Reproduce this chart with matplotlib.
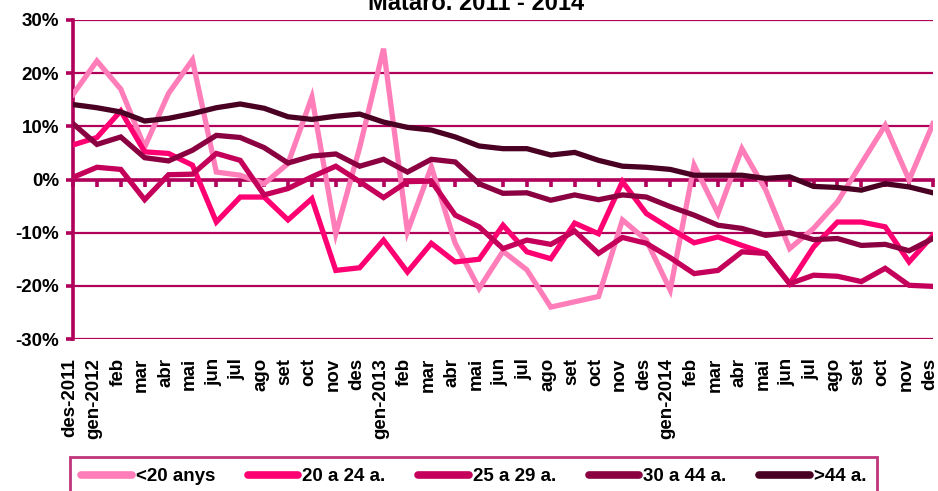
import matplotlib
matplotlib.use('Agg')
import matplotlib.pyplot as plt
import matplotlib.transforms as mtransforms

plt.rcParams['font.family'] = ['Liberation Sans', 'DejaVu Sans']
plt.rcParams['font.weight'] = 'bold'

# Monthly labels des-2011 .. des-2014
months = ['des-2011', 'gen-2012', 'feb', 'mar', 'abr', 'mai', 'jun', 'jul', 'ago', 'set', 'oct', 'nov', 'des',
          'gen-2013', 'feb', 'mar', 'abr', 'mai', 'jun', 'jul', 'ago', 'set', 'oct', 'nov', 'des',
          'gen-2014', 'feb', 'mar', 'abr', 'mai', 'jun', 'jul', 'ago', 'set', 'oct', 'nov', 'des']

# Year-on-year change (%) by age group
menys20 = [16.0, 22.3, 17.0, 6.1, 16.2, 22.5, 1.4, 0.8, -0.8, 3.0, 15.5, -10.2, 6.0,
           24.6, -9.8, 2.4, -12.0, -20.5, -13.5, -17.0, -24.0, -23.0, -22.0, -7.6, -11.4,
           -20.8, 2.7, -6.4, 5.8, -2.0, -13.0, -9.2, -4.2, 3.0, 10.2, -0.1, 10.5]
de20a24 = [6.5, 7.9, 12.9, 5.2, 4.9, 2.7, -8.0, -3.3, -3.3, -7.6, -3.6, -17.1, -16.6,
           -11.4, -17.4, -12.0, -15.5, -15.0, -8.6, -13.6, -14.9, -8.2, -10.2, -0.4, -6.4,
           -9.2, -11.9, -10.8, -12.4, -13.9, -19.6, -12.7, -8.0, -8.0, -8.9, -15.5, -10.5]
de25a29 = [0.4, 2.3, 1.9, -3.8, 0.9, 1.0, 4.9, 3.6, -2.9, -1.7, 0.5, 2.5, -0.4,
           -3.4, -0.4, -0.3, -6.7, -8.9, -13.0, -11.4, -12.2, -9.7, -13.9, -10.9, -12.0,
           -14.7, -17.7, -17.1, -13.6, -13.9, -19.6, -18.0, -18.2, -19.2, -16.7, -19.9, -20.1]
de30a44 = [10.5, 6.6, 8.0, 4.1, 3.5, 5.5, 8.3, 7.9, 6.0, 3.1, 4.4, 4.8, 2.5,
           3.8, 1.4, 3.8, 3.3, -0.8, -2.6, -2.5, -3.9, -2.9, -3.8, -2.9, -3.3,
           -5.1, -6.7, -8.6, -9.2, -10.5, -10.0, -11.3, -11.1, -12.4, -12.2, -13.4, -11.1]
mes44 = [14.1, 13.5, 12.7, 11.0, 11.5, 12.4, 13.5, 14.2, 13.4, 11.8, 11.3, 11.9, 12.3,
         10.8, 9.8, 9.3, 8.0, 6.3, 5.8, 5.8, 4.6, 5.1, 3.6, 2.5, 2.3,
         1.9, 0.8, 0.8, 0.8, 0.2, 0.5, -1.3, -1.5, -2.0, -0.8, -1.4, -2.5]

series_names = ['<20 anys', '20 a 24 a.', '25 a 29 a.', '30 a 44 a.', '>44 a.']
colors = ['#FF7DB8', '#FF0073', '#C4005A', '#8A0040', '#4A0022']
axis_color = '#B0005A'

fig = plt.figure(figsize=(9.38, 4.91), dpi=100)
ax = fig.add_axes([73 / 938, 1 - 339 / 491, 860 / 938, 319 / 491])

x = list(range(len(months)))
for vals, name, col in zip([menys20, de20a24, de25a29, de30a44, mes44], series_names, colors):
    ax.plot(x, vals, color=col, lw=3.8, label=name, solid_joinstyle='miter', zorder=3)

ax.set_xlim(0, len(months) - 1)
ax.set_ylim(-30, 30)
ax.set_yticks(range(-30, 31, 10))
ax.set_yticklabels([f'{v}%' for v in range(-30, 31, 10)], fontsize=13.5, fontweight='bold')

# gridlines
for v in range(-30, 31, 10):
    ax.axhline(v, color=axis_color, lw=1.6, zorder=1)

for s in ['top', 'right']:
    ax.spines[s].set_visible(False)
ax.spines['left'].set_color(axis_color)
ax.spines['left'].set_linewidth(2.6)
ax.spines['bottom'].set_position(('data', 0))
ax.spines['bottom'].set_color(axis_color)
ax.spines['bottom'].set_linewidth(2.6)
ax.spines['bottom'].set_zorder(2)

ax.tick_params(axis='y', direction='out', length=5, width=2.6, color=axis_color, pad=5)
ax.set_xticks(x)
ax.tick_params(axis='x', direction='out', length=5, width=2.6, color=axis_color, labelbottom=False)

# month labels at the bottom of the plot area (slightly left of the tick, as in Excel)
trans = mtransforms.blended_transform_factory(ax.transData, ax.transAxes)
trans = trans + mtransforms.ScaledTranslation(-3 / 100, 0, fig.dpi_scale_trans)
for i, lab in enumerate(months):
    ax.text(i, -0.06, lab, transform=trans, rotation=90, ha='center', va='top',
            fontsize=13.5, fontweight='bold')

fig.text(476 / 938, 1 - 10 / 491, 'Mataró. 2011 - 2014', ha='center', va='baseline',
         fontsize=17, fontweight='bold')

leg = fig.legend(loc='upper left', bbox_to_anchor=(70 / 938, 1 - 457 / 491), ncol=5,
                 fontsize=13.5, frameon=True, fancybox=False, handlelength=2.7,
                 handletextpad=0.2, columnspacing=1.75, borderpad=0.6, borderaxespad=0)
leg.get_frame().set_edgecolor(axis_color)
leg.get_frame().set_linewidth(2.0)
for h in leg.get_lines():
    h.set_linewidth(5.5)
    h.set_solid_capstyle('round')

fig.savefig('out.png', dpi=100)
